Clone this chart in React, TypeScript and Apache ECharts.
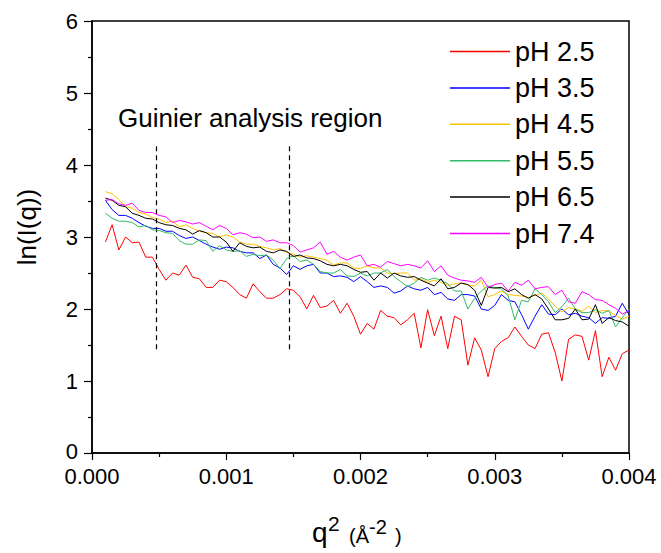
import React, { useEffect, useRef } from "react";
import * as echarts from "echarts";

const FONT = "'Liberation Sans', Arial, Helvetica, sans-serif";

const q2 = [
  0.0001, 0.00015, 0.0002, 0.00025, 0.0003, 0.00035, 0.0004, 0.00045, 0.0005, 0.00055,
  0.0006, 0.00065, 0.0007, 0.00075, 0.0008, 0.00085, 0.0009, 0.00095, 0.001, 0.00105,
  0.0011, 0.00115, 0.0012, 0.00125, 0.0013, 0.00135, 0.0014, 0.00145, 0.0015, 0.00155,
  0.0016, 0.00165, 0.0017, 0.00175, 0.0018, 0.00185, 0.0019, 0.00195, 0.002, 0.00205,
  0.0021, 0.00215, 0.0022, 0.00225, 0.0023, 0.00235, 0.0024, 0.00245, 0.0025, 0.00255,
  0.0026, 0.00265, 0.0027, 0.00275, 0.0028, 0.00285, 0.0029, 0.00295, 0.003, 0.00305,
  0.0031, 0.00315, 0.0032, 0.00325, 0.0033, 0.00335, 0.0034, 0.00345, 0.0035, 0.00355,
  0.0036, 0.00365, 0.0037, 0.00375, 0.0038, 0.00385, 0.0039, 0.00395, 0.004,
];

const pH25 = [
  2.93, 3.17, 2.82, 3.0, 2.92, 2.93, 2.72, 2.72, 2.55, 2.4,
  2.5, 2.47, 2.61, 2.44, 2.42, 2.3, 2.3, 2.4, 2.38, 2.3,
  2.2, 2.15, 2.35, 2.24, 2.15, 2.15, 2.2, 2.28, 2.26, 2.17,
  2.0, 2.19, 2.02, 2.04, 2.12, 1.94, 2.08, 1.9, 1.65, 1.8,
  1.72, 1.98, 1.9, 1.88, 1.78, 1.85, 1.94, 1.46, 1.99, 1.63,
  1.9, 1.45, 1.9, 1.85, 1.22, 1.6, 1.43, 1.06, 1.45, 1.55,
  1.6, 1.75, 1.62, 1.5, 1.45, 1.65, 1.67, 1.4, 1.0, 1.58,
  1.64, 1.62, 1.29, 1.7, 1.06, 1.33, 1.15, 1.38, 1.43,
];

const pH35 = [
  3.51, 3.38, 3.3, 3.3, 3.26, 3.2, 3.15, 3.12, 3.12, 3.08,
  3.08, 3.02, 2.98, 3.0, 2.95, 2.9, 2.86, 2.83, 2.86, 2.85,
  2.8, 2.78, 2.78, 2.7, 2.75, 2.62, 2.57, 2.48, 2.6, 2.55,
  2.6, 2.62, 2.5, 2.5, 2.45, 2.46, 2.44, 2.38, 2.45, 2.38,
  2.3, 2.32, 2.3, 2.22, 2.25, 2.32, 2.28, 2.26, 2.3, 2.2,
  2.23, 2.14, 2.12, 2.2, 2.2, 2.18, 2.0, 1.98, 2.05, 2.2,
  2.12, 2.1, 1.92, 1.72, 1.9, 2.06, 1.93, 1.92, 2.0, 1.92,
  1.94, 1.9, 1.88, 1.8, 1.88, 1.87, 1.9, 2.08, 1.92,
];

const pH45 = [
  3.63, 3.6, 3.52, 3.42, 3.4, 3.34, 3.32, 3.27, 3.25, 3.2,
  3.22, 3.14, 3.17, 3.12, 3.08, 3.06, 3.05, 3.0, 3.03, 3.0,
  2.93, 2.9, 2.9, 2.87, 2.85, 2.82, 2.84, 2.79, 2.76, 2.72,
  2.74, 2.72, 2.7, 2.68, 2.61, 2.64, 2.64, 2.57, 2.56, 2.6,
  2.57, 2.57, 2.5, 2.49, 2.5, 2.5, 2.4, 2.42, 2.37, 2.4,
  2.37, 2.33, 2.35, 2.36, 2.33, 2.32, 2.4, 2.17, 2.2, 2.25,
  2.2, 2.19, 2.18, 2.16, 2.19, 2.22, 2.14, 2.04, 1.96, 2.02,
  2.0, 1.97, 2.04, 1.95, 1.98, 1.97, 1.91, 1.86, 1.9,
];

const pH55 = [
  3.33, 3.26, 3.22, 3.22, 3.2, 3.14, 3.16, 3.1, 3.09, 3.06,
  3.05, 2.95, 2.9, 2.9, 2.96, 2.95, 2.8, 2.88, 2.82, 2.8,
  2.81, 2.73, 2.76, 2.74, 2.75, 2.68, 2.56, 2.7, 2.74, 2.66,
  2.68, 2.62, 2.52, 2.5, 2.5, 2.55, 2.46, 2.45, 2.5, 2.46,
  2.5, 2.5, 2.55, 2.45, 2.38, 2.31, 2.36, 2.44, 2.4, 2.43,
  2.4, 2.35, 2.25, 2.25, 2.0, 2.15, 2.25, 2.32, 2.3, 2.28,
  2.18, 1.85, 2.12, 2.1, 2.28, 2.2, 2.1, 1.95, 2.03, 2.15,
  2.0, 1.95, 1.95, 1.99, 1.94, 1.98, 1.75, 1.88, 2.0,
];

const pH65 = [
  3.54, 3.51, 3.44, 3.42, 3.33, 3.3, 3.26, 3.25, 3.2, 3.17,
  3.16, 3.12, 3.1, 3.04, 3.09, 3.06, 3.0, 3.0, 2.93, 2.8,
  2.92, 2.87, 2.85, 2.86, 2.8, 2.78, 2.82, 2.8, 2.73, 2.75,
  2.71, 2.7, 2.67, 2.62, 2.6, 2.62, 2.6, 2.55, 2.51, 2.52,
  2.4, 2.5, 2.43, 2.5, 2.46, 2.44, 2.45, 2.4, 2.36, 2.32,
  2.42, 2.28, 2.3, 2.36, 2.34, 2.26, 2.05, 2.3, 2.29, 2.3,
  2.24, 2.28, 2.2, 2.15, 2.2, 2.14, 2.0, 1.85, 1.85, 1.87,
  2.0, 1.85, 1.86, 2.06, 1.8, 1.88, 1.84, 1.82, 1.76,
];

const pH74 = [
  3.51, 3.52, 3.46, 3.44, 3.47, 3.37, 3.34, 3.34, 3.3, 3.28,
  3.2, 3.23, 3.21, 3.18, 3.2, 3.15, 3.1, 3.16, 3.12, 3.03,
  3.06, 3.04, 2.99, 3.0, 2.94, 2.96, 2.92, 2.92, 2.88, 2.79,
  2.82, 2.85, 2.93, 2.76, 2.8, 2.72, 2.68, 2.72, 2.75, 2.6,
  2.62, 2.58, 2.66, 2.63, 2.6, 2.62, 2.6, 2.57, 2.67, 2.52,
  2.6, 2.47, 2.43, 2.4, 2.39, 2.37, 2.44, 2.3, 2.34, 2.36,
  2.25, 2.37, 2.33, 2.4, 2.28, 2.3, 2.31, 2.2, 2.26, 2.1,
  2.08, 2.24, 2.2, 2.13, 2.12, 2.06, 2.01, 1.93, 1.98,
];

const seriesNames = ["pH 2.5", "pH 3.5", "pH 4.5", "pH 5.5", "pH 6.5", "pH 7.4"];
const seriesValues = [pH25, pH35, pH45, pH55, pH65, pH74];
const seriesColors = ["#ff0000", "#0000ff", "#ffc000", "#33bb66", "#000000", "#ff00ff"];

const guinierBounds = [0.00048, 0.00147];
const guinierYRange = [1.44, 4.26];
const guinierLabel = "Guinier analysis region";

export default function App() {
  const ref = useRef<HTMLDivElement>(null);

  useEffect(() => {
    if (!ref.current) return;
    const chart = echarts.init(ref.current, undefined, { renderer: "svg" });

    const series: any[] = seriesNames.map((name, k) => ({
      name,
      type: "line",
      symbol: "none",
      showSymbol: false,
      data: q2.map((x, i) => [x, seriesValues[k][i]]),
      lineStyle: { color: seriesColors[k], width: 1 },
      itemStyle: { color: seriesColors[k] },
      emphasis: { disabled: true },
      z: 2 + k,
    }));

    series[0].markLine = {
      silent: true,
      symbol: "none",
      label: { show: false },
      lineStyle: { color: "#000", type: [5, 4], width: 1.2 },
      data: guinierBounds.map((b) => [
        { coord: [b, guinierYRange[0]] },
        { coord: [b, guinierYRange[1]] },
      ]),
    };

    const axisCommon = {
      axisLine: { show: true, onZero: false, lineStyle: { color: "#000", width: 1.5 } },
      splitLine: { show: false },
      minorSplitLine: { show: false },
    };

    chart.setOption({
      animation: false,
      backgroundColor: "#fff",
      grid: {
        left: 92,
        right: 32,
        top: 21,
        bottom: 100,
        show: true,
        borderColor: "#000",
        borderWidth: 1.5,
        backgroundColor: "transparent",
      },
      xAxis: {
        type: "value",
        min: 0,
        max: 0.004,
        interval: 0.001,
        ...axisCommon,
        axisTick: { show: true, inside: false, length: 7, lineStyle: { color: "#000", width: 1.2 } },
        minorTick: { show: true, splitNumber: 2, length: 4, lineStyle: { color: "#000", width: 1.2 } },
        axisLabel: {
          color: "#000",
          fontSize: 22,
          fontFamily: FONT,
          margin: 14,
          lineHeight: 18,
          formatter: (v: number) => v.toFixed(3),
        },
      },
      yAxis: {
        type: "value",
        min: 0,
        max: 6,
        interval: 1,
        ...axisCommon,
        axisTick: { show: true, inside: false, length: 8, lineStyle: { color: "#000", width: 1.2 } },
        minorTick: { show: true, splitNumber: 2, length: 4, lineStyle: { color: "#000", width: 1.2 } },
        axisLabel: {
          color: "#000",
          fontSize: 22,
          fontFamily: FONT,
          margin: 14,
          lineHeight: 16,
          formatter: (v: number) => (v === 0 ? "{z|0}" : String(v)),
          rich: {
            z: { fontSize: 22, fontFamily: FONT, color: "#000", lineHeight: 16, padding: [0, 0, 4, 0] },
          },
        },
      },
      legend: {
        orient: "vertical",
        left: 445,
        top: 33,
        itemWidth: 60,
        itemHeight: 1.5,
        itemGap: 9.4,
        icon: "rect",
        selectedMode: false,
        data: seriesNames,
        textStyle: {
          color: "#000",
          fontSize: 27,
          fontFamily: FONT,
          lineHeight: 26,
        },
      },
      graphic: [
        {
          type: "text",
          left: 118,
          top: 105,
          style: { text: guinierLabel, fill: "#000", fontSize: 26, fontFamily: FONT },
        },
        {
          type: "text",
          x: 27,
          y: 227,
          rotation: Math.PI / 2,
          style: {
            text: "ln(I(q))",
            fill: "#000",
            fontSize: 26,
            fontFamily: FONT,
            align: "center",
            verticalAlign: "middle",
          },
        },
        {
          type: "text",
          x: 312,
          y: 532,
          style: { text: "q", fill: "#000", fontSize: 28, fontFamily: FONT, align: "left", verticalAlign: "middle" },
        },
        {
          type: "text",
          x: 328,
          y: 523,
          style: { text: "2", fill: "#000", fontSize: 21, fontFamily: FONT, align: "left", verticalAlign: "middle" },
        },
        {
          type: "text",
          x: 349,
          y: 536,
          style: { text: "(Å", fill: "#000", fontSize: 20, fontFamily: FONT, align: "left", verticalAlign: "middle" },
        },
        {
          type: "text",
          x: 369,
          y: 527,
          style: { text: "-2", fill: "#000", fontSize: 20, fontFamily: FONT, align: "left", verticalAlign: "middle" },
        },
        {
          type: "text",
          x: 395,
          y: 536,
          style: { text: ")", fill: "#000", fontSize: 20, fontFamily: FONT, align: "left", verticalAlign: "middle" },
        },
      ],
      series,
    });

    return () => chart.dispose();
  }, []);

  return (
    <div
      ref={ref}
      style={{ position: "fixed", left: 0, top: 0, width: 661, height: 553, background: "#fff" }}
    />
  );
}
